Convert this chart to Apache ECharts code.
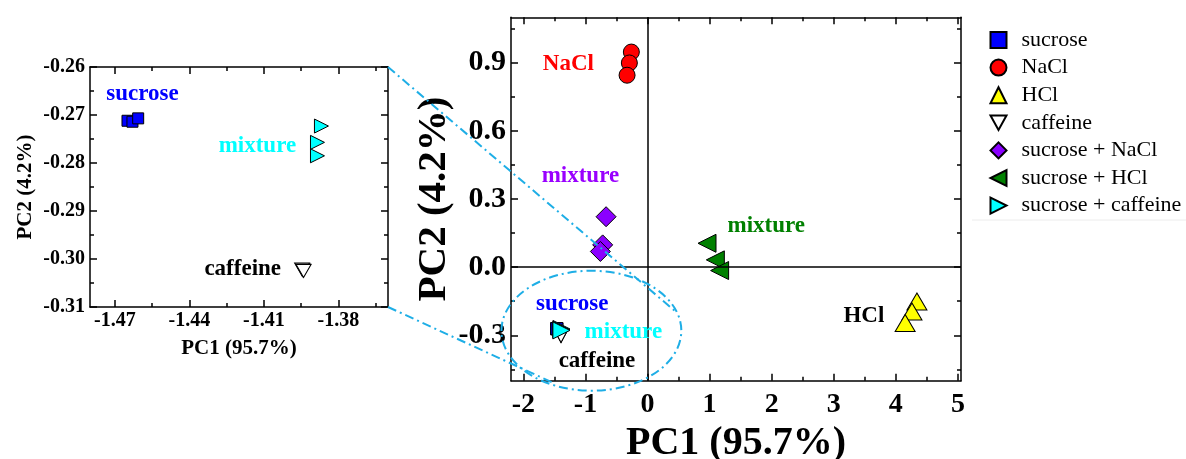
<!DOCTYPE html>
<html><head><meta charset="utf-8">
<script src="https://cdn.jsdelivr.net/npm/echarts@6/dist/echarts.min.js"></script>
<style>html,body{margin:0;padding:0;background:#fff}#c{width:1186px;height:459px}</style>
</head><body><div id="c"></div>
<script>
// ---------- data ----------
const seriesNames = ['sucrose','NaCl','HCl','caffeine','sucrose + NaCl','sucrose + HCl','sucrose + caffeine'];
const sucrose = [[-1.4649,-0.2712],[-1.4629,-0.2714],[-1.4606,-0.2707]];
const nacl = [[-0.261,0.947],[-0.293,0.899],[-0.330,0.845]];
const hcl = [[4.34,-0.151],[4.26,-0.195],[4.15,-0.246]];
const caffeine = [[-1.3946,-0.3022],[-1.3942,-0.3024],[-1.3940,-0.3025]];
const sucroseNaCl = [[-0.668,0.222],[-0.723,0.098],[-0.760,0.069]];
const sucroseHCl = [[0.958,0.105],[1.092,0.032],[1.161,-0.015]];
const sucroseCaffeine = [[-1.3868,-0.2723],[-1.3884,-0.2757],[-1.3884,-0.2785]];

const mainXTicks = [-2,-1,0,1,2,3,4,5];
const mainXMinor = [-1.5,-0.5,0.5,1.5,2.5,3.5,4.5];
const mainYTicks = [-0.3,0,0.3,0.6,0.9];
const mainYMinor = [-0.45,-0.15,0.15,0.45,0.75,1.05];
const insetXTicks = [-1.47,-1.44,-1.41,-1.38];
const insetXMinor = [-1.455,-1.425,-1.395,-1.365];
const insetYTicks = [-0.31,-0.30,-0.29,-0.28,-0.27,-0.26];
const insetYMinor = [-0.305,-0.295,-0.285,-0.275,-0.265];

const xTitle = 'PC1 (95.7%)';
const yTitle = 'PC2 (4.2%)';

// annotation texts (data-space anchors)
const mainNotes = [
  {text:'NaCl', at:[-1.275,0.893], color:'#ff0000'},
  {text:'mixture', at:[-1.082,0.401], color:'#9900ff'},
  {text:'mixture', at:[1.913,0.180], color:'#008000'},
  {text:'HCl', at:[3.486,-0.214], color:'#000000'},
  {text:'sucrose', at:[-1.215,-0.164], color:'#0000ff'},
  {text:'mixture', at:[-0.390,-0.284], color:'#00ffff'},
  {text:'caffeine', at:[-0.815,-0.412], color:'#000000'}
];
const insetNotes = [
  {text:'sucrose', at:[-1.4589,-0.2657], color:'#0000ff'},
  {text:'mixture', at:[-1.4126,-0.2764], color:'#00ffff'},
  {text:'caffeine', at:[-1.4185,-0.3021], color:'#000000'}
];

// ---------- styles ----------
const FONT = '"Liberation Serif","Times New Roman",serif';
const DOWN = 'path://M0,0 L10,0 L5,9 Z';
const LEFT = 'path://M10,0 L10,10 L0,5 Z';
const RIGHT = 'path://M0,0 L0,10 L10,5 Z';
const styleOf = {
  'sucrose': {symbol:'rect', color:'#0000ff', main:12, inset:11},
  'NaCl': {symbol:'circle', color:'#ff0000', main:16},
  'HCl': {symbol:'triangle', color:'#ffff00', main:[20,17]},
  'caffeine': {symbol:DOWN, color:'#ffffff', main:[14,13], inset:[15,13]},
  'sucrose + NaCl': {symbol:'diamond', color:'#8b00ff', main:20},
  'sucrose + HCl': {symbol:LEFT, color:'#008000', main:[18,18]},
  'sucrose + caffeine': {symbol:RIGHT, color:'#00ffff', main:[17,17], inset:[14,14]}
};
const dataOf = {
  'sucrose': sucrose, 'NaCl': nacl, 'HCl': hcl, 'caffeine': caffeine,
  'sucrose + NaCl': sucroseNaCl, 'sucrose + HCl': sucroseHCl, 'sucrose + caffeine': sucroseCaffeine
};

function makeAxes(gridIndex, isX, min, max, majors, minors, fmt, labelSize, labelMargin, name, nameSize, nameGap) {
  const pos = isX ? ['bottom','top'] : ['left','right'];
  const ls = {color:'#000', width:1.5};
  const out = [];
  pos.forEach((p, i) => {
    out.push({
      type:'value', gridIndex, min, max, position:p, splitLine:{show:false},
      axisLine:{show:true, onZero:false, lineStyle:ls},
      axisTick:{show:true, inside:true, length:7, customValues:majors, lineStyle:ls},
      axisLabel:{show:i===0, customValues:majors, formatter:fmt, margin:labelMargin,
        fontFamily:FONT, fontWeight:'bold', fontSize:labelSize, color:'#000'},
      name: i===0 ? name : '', nameLocation:'middle', nameGap,
      nameTextStyle:{fontFamily:FONT, fontWeight:'bold', fontSize:nameSize, color:'#000'}
    });
    out.push({
      type:'value', gridIndex, min, max, position:p, splitLine:{show:false},
      axisLine:{show:false, onZero:false},
      axisTick:{show:true, inside:true, length:4, customValues:minors, lineStyle:ls},
      axisLabel:{show:false}
    });
  });
  return out;
}

const xAxes = [].concat(
  makeAxes(0, true, -2.2, 5.05, mainXTicks, mainXMinor, v => String(Math.round(v)), 28, 10, xTitle, 40, 42),
  makeAxes(1, true, -1.48, -1.36, insetXTicks, insetXMinor, v => v.toFixed(2), 20, 4, xTitle, 21, 31)
);
const yAxes = [].concat(
  makeAxes(0, false, -0.5, 1.1, mainYTicks, mainYMinor, v => v.toFixed(1), 30, 5, yTitle, 41, 54),
  makeAxes(1, false, -0.31, -0.26, insetYTicks, insetYMinor, v => v.toFixed(2), 20, 5, yTitle, 21, 54)
);

const series = [];
seriesNames.forEach((n, idx) => {
  const s = styleOf[n];
  const ser = {
    type:'scatter', name:n, xAxisIndex:0, yAxisIndex:0, data:dataOf[n],
    symbol:s.symbol, symbolSize:s.main,
    itemStyle:{color:s.color, borderColor:'#000', borderWidth:1, opacity:1},
    emphasis:{disabled:true}, silent:true
  };
  if (idx === 1) {
    ser.markLine = {silent:true, symbol:['none','none'], label:{show:false},
      lineStyle:{color:'#000', type:'solid', width:1.5},
      data:[{xAxis:0},{yAxis:0}]};
  }
  series.push(ser);
});
['sucrose','caffeine','sucrose + caffeine'].forEach(n => {
  const s = styleOf[n];
  series.push({
    type:'scatter', name:n, xAxisIndex:4, yAxisIndex:4, data:dataOf[n],
    symbol:s.symbol, symbolSize:s.inset,
    itemStyle:{color:s.color, borderColor:'#000', borderWidth:1, opacity:1},
    emphasis:{disabled:true}, silent:true
  });
});

const chart = echarts.init(document.getElementById('c'), null, {renderer:'canvas'});
chart.setOption({
  animation:false,
  backgroundColor:'#fff',
  grid:[
    {left:511, top:17.3, width:450, height:363.4, outerBoundsMode:'none', containLabel:false},
    {left:90, top:67, width:298, height:240, outerBoundsMode:'none', containLabel:false}
  ],
  xAxis:xAxes, yAxis:yAxes,
  legend:{
    orient:'vertical', left:984.5, top:24, itemWidth:16, itemHeight:16, itemGap:5.6,
    selectedMode:false, data:seriesNames,
    textStyle:{fontFamily:FONT, fontSize:22, color:'#000', lineHeight:22, padding:[0,0,0,10]}
  },
  series
});

// ---------- annotations, zoom connectors ----------
const MAIN = {seriesIndex:0}, INSET = {seriesIndex:7};
const px = (f, pt) => chart.convertToPixel(f, pt);
const graphics = [];
function addNote(f, n) {
  const p = px(f, n.at);
  graphics.push({type:'text', z:100, style:{text:n.text, x:p[0], y:p[1], fill:n.color,
    font:'bold 23px ' + FONT, align:'center', verticalAlign:'middle'}});
}
mainNotes.forEach(n => addNote(MAIN, n));
insetNotes.forEach(n => addNote(INSET, n));

const cyan = '#1eaee6';
const dash = [9,4,2,4];
// ellipse around the zoomed region, in main data space
const ellTL = px(MAIN, [-2.354,-0.016]);
const ellBR = px(MAIN, [0.544,-0.544]);
graphics.push({type:'ellipse', z:100, shape:{cx:(ellTL[0]+ellBR[0])/2, cy:(ellTL[1]+ellBR[1])/2,
  rx:(ellBR[0]-ellTL[0])/2, ry:(ellBR[1]-ellTL[1])/2},
  style:{fill:'none', stroke:cyan, lineWidth:2, lineDash:dash}});
const cTR = px(INSET, [-1.36,-0.26]);
const cBR = px(INSET, [-1.36,-0.31]);
const eUp = px(MAIN, [0.475,-0.201]);
const eLo = px(MAIN, [-1.533,-0.508]);
graphics.push({type:'line', z:100, shape:{x1:cTR[0], y1:cTR[1], x2:eUp[0], y2:eUp[1]},
  style:{stroke:cyan, lineWidth:2, lineDash:dash}});
graphics.push({type:'line', z:100, shape:{x1:cBR[0], y1:cBR[1], x2:eLo[0], y2:eLo[1]},
  style:{stroke:cyan, lineWidth:2, lineDash:dash}});
// faint legend box
graphics.push({type:'polyline', z:0, shape:{points:[[972,220],[1186,220]]},
  style:{fill:'none', stroke:'#ececec', lineWidth:1}});
chart.setOption({graphic:graphics});
</script>
</body></html>
